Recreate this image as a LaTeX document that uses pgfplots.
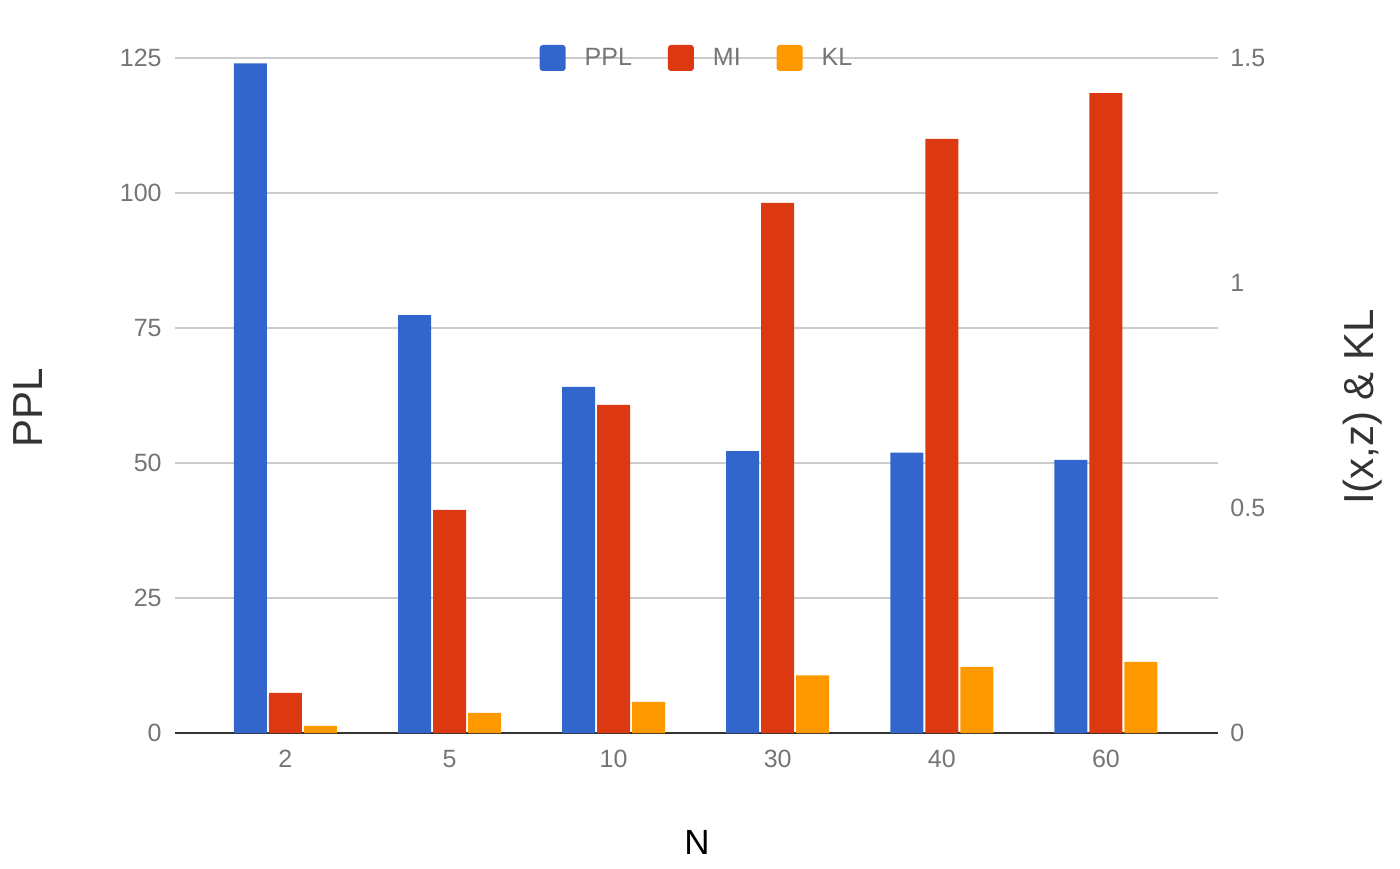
\documentclass[border=0pt]{standalone}
\usepackage{pgfplots}
\pgfplotsset{compat=1.18}
\usepackage{fontspec}
\setmainfont{Liberation Sans}
\definecolor{gblue}{HTML}{3366CC}
\definecolor{gred}{HTML}{DC3912}
\definecolor{gorange}{HTML}{FF9900}
\definecolor{ticktext}{HTML}{757575}
\definecolor{labeltext}{HTML}{333333}
\definecolor{gridc}{HTML}{CCCCCC}

\pgfplotsset{
  base/.style={
    scale only axis, width=521.5pt, height=337.5pt,
    at={(87.5pt,67.5pt)}, anchor=south west,
    xmin=-0.673, xmax=5.683, ymin=0,
    ybar, bar width=16.5pt,
    major tick length=0pt,
    /pgf/number format/assume math mode=true,
    tick label style={font=\fontsize{12.5}{14}\selectfont, text=ticktext, inner sep=0pt},
    legend image code/.code={\fill[##1, draw=none, rounded corners=1.5pt] (0pt,-6.5pt) rectangle (13pt,6.5pt);},
  },
}

\begin{document}
\begin{tikzpicture}
\useasboundingbox (0,0) rectangle (700pt,434pt);

% left axis: PPL
\begin{axis}[
  base,
  ymax=125, ytick={0,25,...,125},
  xtick={0,...,5}, xticklabels={2,5,10,30,40,60},
  axis x line*=bottom, axis y line*=left,
  x axis line style={draw=labeltext, line width=1pt, -},
  y axis line style={draw=none},
  ymajorgrids, grid style={gridc, line width=0.75pt},
  yticklabel style={anchor=east, xshift=-6.5pt},
  xticklabel style={anchor=north, yshift=-8.5pt},
  ylabel={PPL},
  ylabel style={at={(axis description cs:-0.141,0.4815)}, anchor=center,
    font=\fontsize{21}{24}\selectfont, text=labeltext},
  xlabel={N},
  xlabel style={at={(axis description cs:0.5005,-0.1615)}, anchor=center,
    font=\fontsize{17.5}{20}\selectfont, text=black},
]
\addplot[fill=gblue, draw=none, bar shift=-17.5pt] coordinates {
  (0,124) (1,77.4) (2,64.1) (3,52.2) (4,51.9) (5,50.6)};
\end{axis}

% right axis: I(x,z) and KL
\begin{axis}[
  base,
  ymax=1.5, ytick={0,0.5,1,1.5},
  axis x line=none, axis y line*=right,
  y axis line style={draw=none},
  yticklabel style={anchor=west, xshift=6pt},
  ylabel={I(x,z) \& KL},
  ylabel style={at={(axis description cs:1.139,0.483)}, anchor=center,
    font=\fontsize{21}{24}\selectfont, text=labeltext},
  legend columns=-1,
  legend style={at={(axis description cs:0.4995,1)}, anchor=center,
    draw=none, fill=none, font=\fontsize{12.5}{14}\selectfont, text=ticktext,
    nodes={inner sep=0pt},
    /tikz/every odd column/.append style={column sep=9.5pt},
    /tikz/every even column/.append style={column sep=18pt}},
]
\addlegendimage{fill=gblue}
\addlegendentry{PPL}
\addplot[fill=gred, draw=none, bar shift=0pt] coordinates {
  (0,0.089) (1,0.496) (2,0.729) (3,1.178) (4,1.32) (5,1.422)};
\addlegendentry{MI}
\addplot[fill=gorange, draw=none, bar shift=17.5pt] coordinates {
  (0,0.016) (1,0.045) (2,0.069) (3,0.128) (4,0.147) (5,0.158)};
\addlegendentry{KL}
\end{axis}
\end{tikzpicture}
\end{document}
